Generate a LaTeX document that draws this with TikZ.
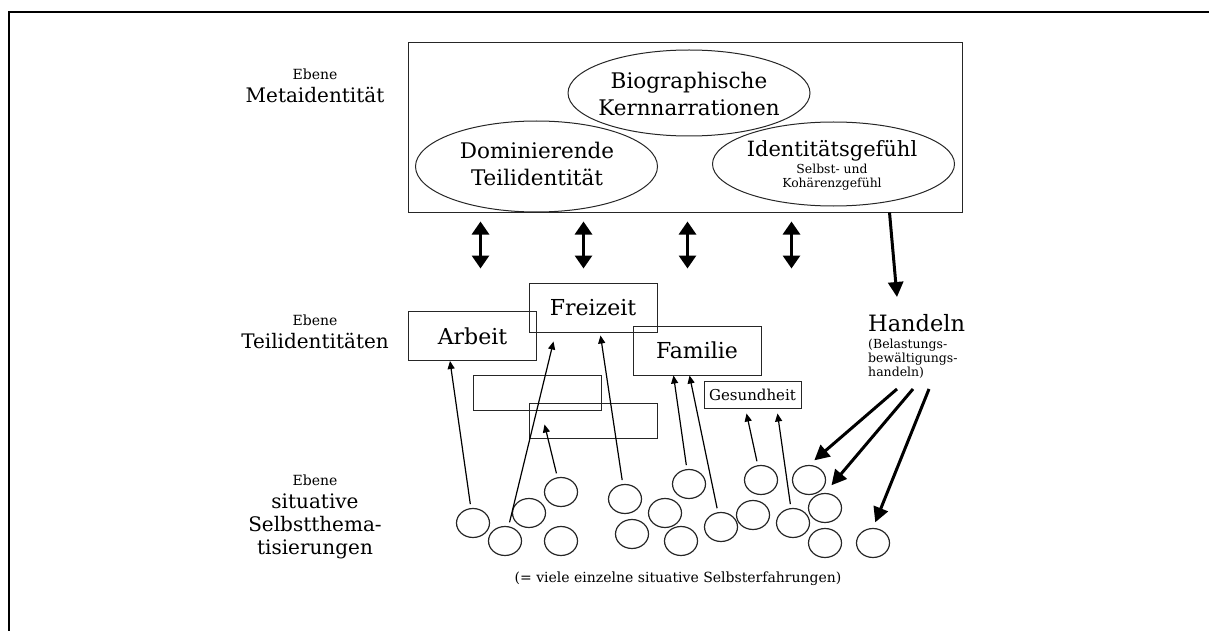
\documentclass[tikz,border=0pt]{standalone}
\usepackage{fontspec}
\setmainfont{DejaVu Serif}
\usetikzlibrary{arrows.meta,shapes.geometric}

\begin{document}
\begin{tikzpicture}[x=1pt, y=-1pt,
    lvl/.style={align=center, inner sep=0pt, anchor=north, font=\fontsize{20}{23}\selectfont},
    oval/.style={draw=black!85, line width=1pt, ellipse, inner sep=0pt, minimum width=242pt},
    ovaltxt/.style={align=center, inner sep=0pt, anchor=north, font=\fontsize{21.5}{27}\selectfont},
    teil/.style={draw=black!85, line width=1pt, inner sep=0pt, minimum width=128pt, minimum height=49pt, font=\fontsize{22}{24}\selectfont},
    blank/.style={draw=black!85, line width=1pt, minimum width=128pt, minimum height=35pt},
    sit/.style={draw=black!85, line width=1.2pt, ellipse, inner sep=0pt, minimum width=33pt, minimum height=29pt},
    thinarr/.style={-{Triangle[length=8pt,width=7pt]}, line width=1.2pt, shorten <=4pt},
    thickarr/.style={-{Triangle[length=15pt,width=15pt]}, line width=3pt},
    dblarr/.style={{Triangle[length=13pt,width=17pt]}-{Triangle[length=13pt,width=17pt]}, line width=3pt}]

\useasboundingbox (0,0) rectangle (1209,631);

% Rahmen (nur oben und links zu sehen)
\draw[line width=2.2pt] (9,640) -- (9,12) -- (1215,12);

% Ebenen
\node[lvl] (lvmeta) at (315,69) {{\fontsize{14}{16}\selectfont Ebene}\\Metaidentität};
\node[lvl] (lvteil) at (315,315) {{\fontsize{14}{16}\selectfont Ebene}\\Teilidentitäten};
\node[lvl] (lvsit) at (315,475) {{\fontsize{14}{16}\selectfont Ebene}\\situative\\Selbstthema-\\tisierungen};

% Metaidentitaet
\node[draw=black!85, line width=1pt, minimum width=554pt, minimum height=169pt] (meta) at (685,127.5) {};
\node[oval, minimum height=86pt] (bio) at (689,93) {};
\node[ovaltxt] (biotxt) at (689,72) {Biographische\\Kernnarrationen};
\node[oval, minimum height=91pt] (dom) at (536.5,166.5) {};
\node[ovaltxt] (domtxt) at (537,142) {Dominierende\\Teilidentität};
\node[oval, minimum height=84pt] (ident) at (833.5,164) {};
\node[ovaltxt, font=\fontsize{21}{17.3}\selectfont] (identtxt) at (832,140)
    {Identitätsgefühl\\{\fontsize{12.4}{14}\selectfont Selbst- und}\\[-3pt]{\fontsize{12.4}{14}\selectfont Kohärenzgefühl}};

% Wechselwirkung Meta <-> Teil
\foreach \dx in {73,176,280,384}
    \draw[dblarr] ([xshift=\dx pt,yshift=-9pt]meta.south west) -- ++(0,47);

% Teilidentitaeten
\node[teil] (arbeit) at (472.5,336) {Arbeit};
\node[teil] (freizeit) at (593,307.5) {Freizeit};
\node[teil] (familie) at (697,350.5) {Familie};
\node[draw=black!85, line width=1pt, inner sep=0pt, minimum width=97pt, minimum height=27pt,
      font=\fontsize{15}{17}\selectfont] (gesund) at (752.5,394.5) {Gesundheit};
\node[blank] (leer1) at (537.5,392.5) {};
\node[blank] (leer2) at (593,420.5) {};

% Handeln
\node[anchor=base west, inner sep=0pt, font=\fontsize{22.5}{25}\selectfont] (handeln) at (868,331) {Handeln};
\node[anchor=north west, inner sep=0pt, align=left, font=\fontsize{12.5}{13.8}\selectfont] (bewaelt) at (868,339)
    {(Belastungs-\\bewältigungs-\\handeln)};
\draw[thickarr] ([xshift=-73pt]meta.south east) -- ([xshift=29pt,yshift=34pt]handeln.base west);

% situative Selbstthematisierungen
\foreach \n/\x/\y in {1/473/523, 2/505/541, 3/529/513, 4/561/492, 5/561/541,
                      6/625/499, 7/632/534, 8/665/513, 9/689/484, 10/681/541, 11/721/527,
                      12/753/515, 13/761/480, 14/793/523, 15/809/480, 16/825/508, 17/825/543, 18/873/543}
    \node[sit] (c\n) at (\x,\y) {};
\node[font=\fontsize{14}{16}\selectfont] (fazit) at (678,579) {(= viele einzelne situative Selbsterfahrungen)};

% Pfeile nach oben
\draw[thinarr] (c1) -- ([xshift=42pt]arbeit.south west);
\draw[thinarr] (c2) -- ([xshift=25pt,yshift=-9pt]freizeit.south west);
\draw[thinarr] (c4) -- ([xshift=16pt,yshift=14pt]leer2.south west);
\draw[thinarr] (c6) -- ([xshift=72pt,yshift=-3pt]freizeit.south west);
\draw[thinarr] (c9) -- ([xshift=41pt]familie.south west);
\draw[thinarr] (c11) -- ([xshift=57pt]familie.south west);
\draw[thinarr] (c13) -- ([xshift=43pt,yshift=-5pt]gesund.south west);
\draw[thinarr] (c14) -- ([xshift=74pt,yshift=-5pt]gesund.south west);

% Pfeile vom Handeln
\draw[thickarr, shorten >=7pt] ([xshift=29pt,yshift=-58pt]handeln.base west) -- (c15.north);
\draw[thickarr, shorten >=10pt] ([xshift=45pt,yshift=-58pt]handeln.base west) -- (c16.north);
\draw[thickarr, shorten >=6pt] ([xshift=61pt,yshift=-58pt]handeln.base west) -- (c18.north);
\end{tikzpicture}
\end{document}
